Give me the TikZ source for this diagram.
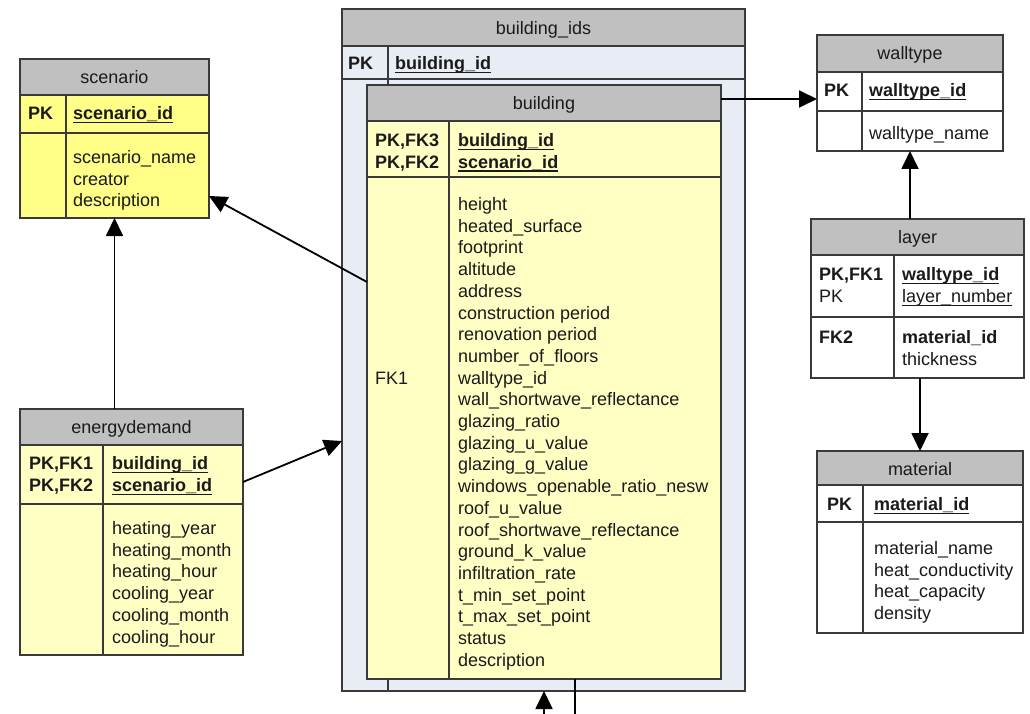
\documentclass[tikz,border=0pt]{standalone}
\usepackage{fontspec}
\setmainfont{Liberation Sans}
\usetikzlibrary{arrows.meta}

\definecolor{hdr}{HTML}{C0C0C0}
\definecolor{ylw}{HTML}{FFFF88}
\definecolor{pale}{HTML}{FFFFC4}
\definecolor{idsfill}{HTML}{E8ECF4}
\definecolor{edge}{HTML}{3A3A3A}
\definecolor{ink}{HTML}{1A1A1A}

% primary-key text: underline level with the underscore glyph
\newcommand\keyul[1]{\setbox0\hbox{#1}\rlap{\rule[-3.6pt]{\wd0}{1.3pt}}\box0}

\begin{document}
\begin{tikzpicture}[x=1pt,y=-1pt,
  font=\fontsize{18}{21.7}\selectfont, text=ink,
  tbl/.style={draw=edge, line width=1.4pt, anchor=north west, inner sep=0, outer sep=0},
  hdrbox/.style={draw=edge, line width=1.4pt, fill=hdr},
  rule/.style={draw=edge, line width=1.4pt},
  ttl/.style={anchor=base, inner sep=0, yshift=-1.5pt},
  fld/.style={anchor=base west, inner sep=0, yshift=-1.5pt},
  rel/.style={draw=black, line width=1.8pt, -{Triangle[length=18pt,width=17pt]}},
  ]
\useasboundingbox (0,0) rectangle (1030,714);

% ---------- scenario ----------
\node[tbl, fill=ylw, minimum width=189, minimum height=159] (scenario) at (20,59) {};
\draw[hdrbox] (20,59) rectangle (209,95);
\draw[rule] (20,133) -- (209,133);
\draw[rule] (66,95) -- (66,218);
\node[ttl] (scenarioT) at (114.5,82) {scenario};
\node[fld] (scenarioK) at (28,118) {\textbf{PK}};
\node[fld] (scenarioId) at (73,118) {\textbf{\keyul{scenario\_id}}};
\foreach \t [count=\i from 0] in {scenario\_name, creator, description}
  \node[fld] (scf\i) at (73,{162+21.7*\i}) {\t};

% ---------- energydemand ----------
\node[tbl, fill=pale, minimum width=223, minimum height=246] (energy) at (20,409) {};
\draw[hdrbox] (20,409) rectangle (243,445);
\draw[rule] (20,504) -- (243,504);
\draw[rule] (103,445) -- (103,655);
\node[ttl] (energyT) at (131.5,432) {energydemand};
\node[fld] (energyK1) at (29,468) {\textbf{PK,FK1}};
\node[fld] (energyK2) at (29,489.7) {\textbf{PK,FK2}};
\node[fld] (energyId1) at (112,468) {\textbf{\keyul{building\_id}}};
\node[fld] (energyId2) at (112,489.7) {\textbf{\keyul{scenario\_id}}};
\foreach \t [count=\i from 0] in {heating\_year, heating\_month, heating\_hour,
    cooling\_year, cooling\_month, cooling\_hour}
  \node[fld] (enf\i) at (112,{533+21.7*\i}) {\t};

% ---------- building_ids (behind building) ----------
\node[tbl, fill=idsfill, minimum width=403, minimum height=682] (bids) at (342,9) {};
\draw[hdrbox] (342,9) rectangle (745,46);
\draw[rule] (342,79) -- (745,79);
\draw[rule] (388,46) -- (388,691);
\node[ttl] (bidsT) at (543.5,33) {building\_ids};
\node[fld] (bidsK) at (348,68) {\textbf{PK}};
\node[fld] (bidsId) at (395,68) {\textbf{\keyul{building\_id}}};

% ---------- building ----------
\node[tbl, fill=pale, minimum width=354, minimum height=594] (bldg) at (367,85) {};
\draw[hdrbox] (367,85) rectangle (721,121);
\draw[rule] (367,177) -- (721,177);
\draw[rule] (449,121) -- (449,679);
\node[ttl] (bldgT) at (544,108) {building};
\node[fld] (bldgK1) at (375,145) {\textbf{PK,FK3}};
\node[fld] (bldgK2) at (375,166.7) {\textbf{PK,FK2}};
\node[fld] (bldgId1) at (458,145) {\textbf{\keyul{building\_id}}};
\node[fld] (bldgId2) at (458,166.7) {\textbf{\keyul{scenario\_id}}};
\node[fld] (bldgFK) at (375,{209+21.7*8}) {FK1};
\foreach \t [count=\i from 0] in {height, heated\_surface, footprint, altitude, address,
    construction period, renovation period, number\_of\_floors, walltype\_id,
    wall\_shortwave\_reflectance, glazing\_ratio, glazing\_u\_value, glazing\_g\_value,
    windows\_openable\_ratio\_nesw, roof\_u\_value, roof\_shortwave\_reflectance,
    ground\_k\_value, infiltration\_rate, t\_min\_set\_point, t\_max\_set\_point,
    status, description}
  \node[fld] (bf\i) at (458,{209+21.7*\i}) {\t};

% ---------- walltype ----------
\node[tbl, fill=white, minimum width=186, minimum height=116] (wall) at (817,35) {};
\draw[hdrbox] (817,35) rectangle (1003,72);
\draw[rule] (817,111) -- (1003,111);
\draw[rule] (862,72) -- (862,151);
\node[ttl] (wallT) at (910,58) {walltype};
\node[fld] (wallK) at (824,95) {\textbf{PK}};
\node[fld] (wallId) at (869,95) {\textbf{\keyul{walltype\_id}}};
\node[fld] (wallName) at (869,138) {walltype\_name};

% ---------- layer ----------
\node[tbl, fill=white, minimum width=213, minimum height=159] (layer) at (811,219) {};
\draw[hdrbox] (811,219) rectangle (1024,255);
\draw[rule] (811,317) -- (1024,317);
\draw[rule] (894,255) -- (894,378);
\node[ttl] (layerT) at (917.5,242) {layer};
\node[fld] (layerK1) at (819,279) {\textbf{PK,FK1}};
\node[fld] (layerK2) at (819,300.7) {PK};
\node[fld] (layerId1) at (902,279) {\textbf{\keyul{walltype\_id}}};
\node[fld] (layerId2) at (902,300.7) {\keyul{layer\_number}};
\node[fld] (layerF) at (819,342) {\textbf{FK2}};
\node[fld] (layerMat) at (902,342) {\textbf{material\_id}};
\node[fld] (layerThk) at (902,363.7) {thickness};

% ---------- material ----------
\node[tbl, fill=white, minimum width=206, minimum height=182] (mat) at (817,451) {};
\draw[hdrbox] (817,451) rectangle (1023,485);
\draw[rule] (817,522) -- (1023,522);
\draw[rule] (863,485) -- (863,633);
\node[ttl] (matT) at (920,474) {material};
\node[fld] (matK) at (827,509) {\textbf{PK}};
\node[fld] (matId) at (874,509) {\textbf{\keyul{material\_id}}};
\foreach \t [count=\i from 0] in {material\_name, heat\_conductivity, heat\_capacity, density}
  \node[fld] (mf\i) at (874,{553+21.7*\i}) {\t};

% ---------- relationships ----------
\coordinate (lowIn) at (544,714);
\coordinate (lowOut) at (575,714);
\draw[rel] (bldg.east |- 0,99) -- (wall.west |- 0,99);
\draw[rel] (wall.south |- layer.north) -- (wall.south);
\draw[rel] (mat.north |- layer.south) -- (mat.north);
\draw[rel] (scenario.south |- energy.north) -- (scenario.south);
\draw[rel] (energy.east |- 0,482) -- (bids.west |- 0,441);
\draw[rel] (bldg.west |- 0,282) -- (scenario.east |- 0,196);
\draw[rel] (lowIn) -- (bids.south -| lowIn);
\draw[draw=black, line width=1.8pt] (bldg.south -| lowOut) -- (lowOut);
\end{tikzpicture}
\end{document}
